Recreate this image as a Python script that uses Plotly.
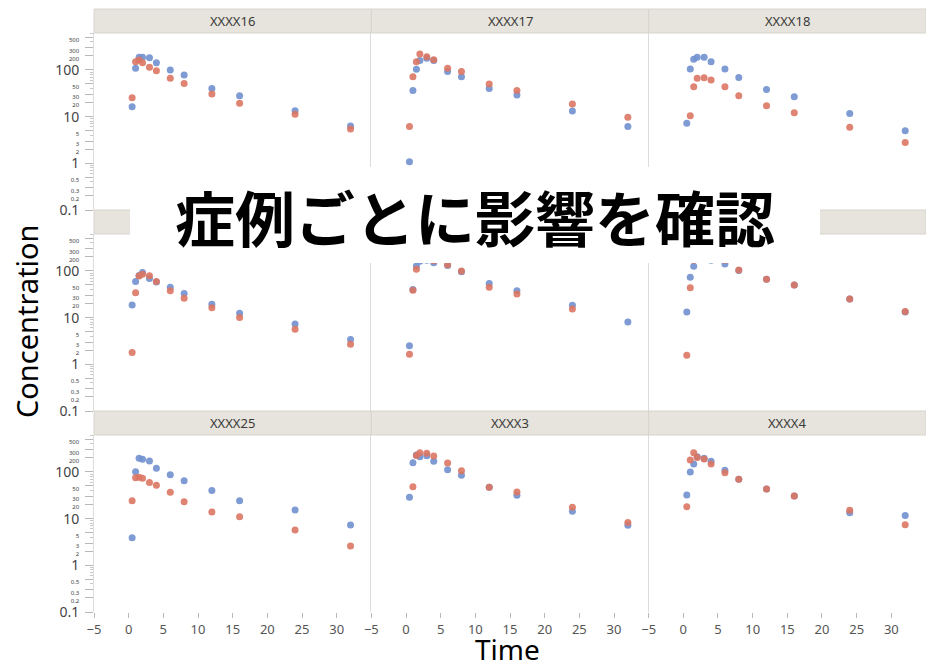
import plotly.graph_objects as go

# ---------------- data ----------------
times = [0.5, 1, 1.5, 2, 3, 4, 6, 8, 12, 16, 24, 32]

strip_labels = ["XXXX16", "XXXX17", "XXXX18",
                None, None, None,          # covered by the overlay caption
                "XXXX25", "XXXX3", "XXXX4"]

blue_16 = [16.3, 108, 186, 186, 183, 143, 100, 78, 40, 28, 13.4, 6.3]
red_16 = [25.4, 150, 162, 143, 114, 96, 66, 51, 30.5, 19.3, 11.2, 5.4]

blue_17 = [1.08, 36, 103, 158, 177, 158, 92, 71, 40, 29, 13.2, 6.1]
red_17 = [6.1, 71, 150, 219, 192, 165, 108, 92, 50, 36, 18.6, 9.7]

blue_18 = [7.2, 104, 169, 186, 186, 150, 104, 69, 38, 26.7, 11.7, 5.0]
red_18 = [None, 10.4, 43.6, 66, 68, 61, 43.6, 28, 17.1, 12.1, 5.9, 2.8]

blue_r2a = [18.6, 59, 80, 92, 69, 58, 44.6, 33, 19.3, 12.4, 7.3, 3.4]
red_r2a = [1.8, 34, 78, 85, 79, 59, 37.7, 25.9, 16.3, 10.1, 5.6, 2.7]

blue_r2b = [2.5, 40, 127, 160, 170, 150, 130, 96, 54, 37.7, 18.3, 8.0]
red_r2b = [1.64, 38.5, 108, 175, 180, 165, 135, 100, 44.6, 32, 15.3, None]

blue_r2c = [13.2, 73, 125, 180, 190, 170, 141, 102, 66, 50, 25, 13.2]
red_r2c = [1.56, 43.7, 170, 200, 190, 175, 170, 105, 66, 50, 25, 13.5]

blue_25 = [3.9, 101, 195, 186, 171, 119, 87, 65, 40, 24, 15.3, 7.3]
red_25 = [24, 75, 77, 73, 59, 52, 36.6, 23, 13.8, 11, 5.7, 2.6]

blue_3 = [28.6, 157, 230, 212, 222, 169, 111, 85, 47, 31.5, 14.3, 7.2]
red_3 = [None, 48, 225, 257, 250, 219, 155, 106, 47, 37, 17.5, 8.2]

blue_4 = [32, 100, 148, 212, 195, 169, 108, 70, 43, 30.5, 13.4, 11.7]
red_4 = [18, 180, 258, 204, 190, 148, 96, 70, 43, 30.5, 15, 7.4]

blue_series = [blue_16, blue_17, blue_18, blue_r2a, blue_r2b, blue_r2c, blue_25, blue_3, blue_4]
red_series = [red_16, red_17, red_18, red_r2a, red_r2b, red_r2c, red_25, red_3, red_4]

x_ticks = [-5, 0, 5, 10, 15, 20, 25, 30]
y_major = [0.1, 1, 10, 100]
y_minor_labels = [0.2, 0.3, 0.5, 2, 3, 5, 20, 30, 50, 200, 300, 500]

caption = "症例ごとに影響を確認"
x_title = "Time"
y_title = "Concentration"

# ---------------- layout geometry ----------------
W, H = 926, 661
ML, MR, MT, MB = 94, 0, 9, 49
PW = W - ML - MR
PH = H - MT - MB
ROW_H = PH / 3.0
STRIP_H = 24

def py(px):  # pixel y -> paper y
    return (H - MB - px) / PH

def pxx(px):  # pixel x -> paper x
    return (px - ML) / PW

BLUE = "#7190cf"
RED = "#db7663"
STRIP = "#e6e4dc"
FONT = "Noto Sans"

fig = go.Figure()
shapes = []
annotations = []

def fmt(v):
    return ("%g" % v)

tickvals = sorted(y_major + y_minor_labels)
ticktext = [fmt(v) if v in y_major else "<span style='font-size:6px'>%s</span>" % fmt(v)
            for v in tickvals]
minor_vals = [k * 10 ** e for e in [-1, 0, 1, 2] for k in range(2, 10) if k * 10 ** e <= 600]

for r in range(3):
    row_top_px = MT + r * ROW_H
    plot_top_px = row_top_px + STRIP_H
    plot_bot_px = MT + (r + 1) * ROW_H
    for c in range(3):
        k = r * 3 + c + 1
        xd = [c / 3.0, (c + 1) / 3.0]
        yd = [py(plot_bot_px), py(plot_top_px)]
        xa = "x" if k == 1 else "x%d" % k
        ya = "y" if k == 1 else "y%d" % k
        idx = r * 3 + c
        fig.add_trace(go.Scatter(x=times, y=blue_series[idx], mode="markers",
                                 marker=dict(color=BLUE, size=7, opacity=0.9),
                                 xaxis=xa, yaxis=ya, showlegend=False))
        fig.add_trace(go.Scatter(x=times, y=red_series[idx], mode="markers",
                                 marker=dict(color=RED, size=7, opacity=0.9),
                                 xaxis=xa, yaxis=ya, showlegend=False))
        xkey = "xaxis" if k == 1 else "xaxis%d" % k
        ykey = "yaxis" if k == 1 else "yaxis%d" % k
        bottom = (r == 2)
        left = (c == 0)
        fig.layout[xkey] = dict(domain=xd, anchor=ya, range=[-5, 35],
                                showgrid=False, zeroline=False, showline=False,
                                tickmode="array", tickvals=x_ticks,
                                showticklabels=bottom,
                                ticks="outside" if bottom else "",
                                ticklen=5, tickcolor="#b8b8b8",
                                tickfont=dict(family=FONT, size=13, color="#555555"))
        fig.layout[ykey] = dict(domain=yd, anchor=xa, type="log", range=[-1, 2.79],
                                showgrid=False, zeroline=False,
                                showline=True, linecolor="#dcdcdc", linewidth=1,
                                tickmode="array", tickvals=tickvals, ticktext=ticktext,
                                showticklabels=left,
                                ticks="outside" if left else "",
                                ticklen=8, tickcolor="#b8b8b8",
                                ticklabelstandoff=3,
                                minor=dict(tickvals=minor_vals, ticklen=3,
                                           tickcolor="#c8c8c8",
                                           ticks="outside" if left else ""),
                                tickfont=dict(family=FONT, size=14, color="#444444"))
        # strip header
        shapes.append(dict(type="rect", xref="paper", yref="paper",
                           x0=xd[0], x1=xd[1], y0=py(plot_top_px), y1=py(row_top_px),
                           fillcolor=STRIP, line=dict(color="#d6d4cc", width=1),
                           layer="above"))
        lab = strip_labels[idx]
        if lab:
            annotations.append(dict(text=lab, xref="paper", yref="paper",
                                    x=(xd[0] + xd[1]) / 2,
                                    y=py(row_top_px + STRIP_H / 2.0),
                                    showarrow=False, xanchor="center", yanchor="middle",
                                    font=dict(family=FONT, size=13, color="#3a3a3a")))

# overlay caption box
shapes.append(dict(type="rect", xref="paper", yref="paper",
                   x0=pxx(130), x1=pxx(820), y0=py(263), y1=py(167),
                   fillcolor="white", line=dict(width=0), layer="above"))
annotations.append(dict(text=caption, xref="paper", yref="paper",
                        x=pxx(475), y=py(215), showarrow=False,
                        xanchor="center", yanchor="middle",
                        font=dict(family="Noto Sans CJK JP", size=60, color="black",
                                  weight="bold")))
# axis titles
annotations.append(dict(text=x_title, xref="paper", yref="paper",
                        x=pxx(507), y=py(649), showarrow=False,
                        xanchor="center", yanchor="middle",
                        font=dict(family=FONT, size=28, color="black")))
annotations.append(dict(text=y_title, xref="paper", yref="paper",
                        x=pxx(26), y=py(321), showarrow=False, textangle=-90,
                        xanchor="center", yanchor="middle",
                        font=dict(family=FONT, size=29, color="black")))

fig.update_layout(width=W, height=H, margin=dict(l=ML, r=MR, t=MT, b=MB),
                  paper_bgcolor="white", plot_bgcolor="white",
                  shapes=shapes, annotations=annotations, showlegend=False)

fig.write_html("out.html", config={"displayModeBar": False},
               post_script="document.body.style.margin='0px';document.body.style.overflow='hidden';")
